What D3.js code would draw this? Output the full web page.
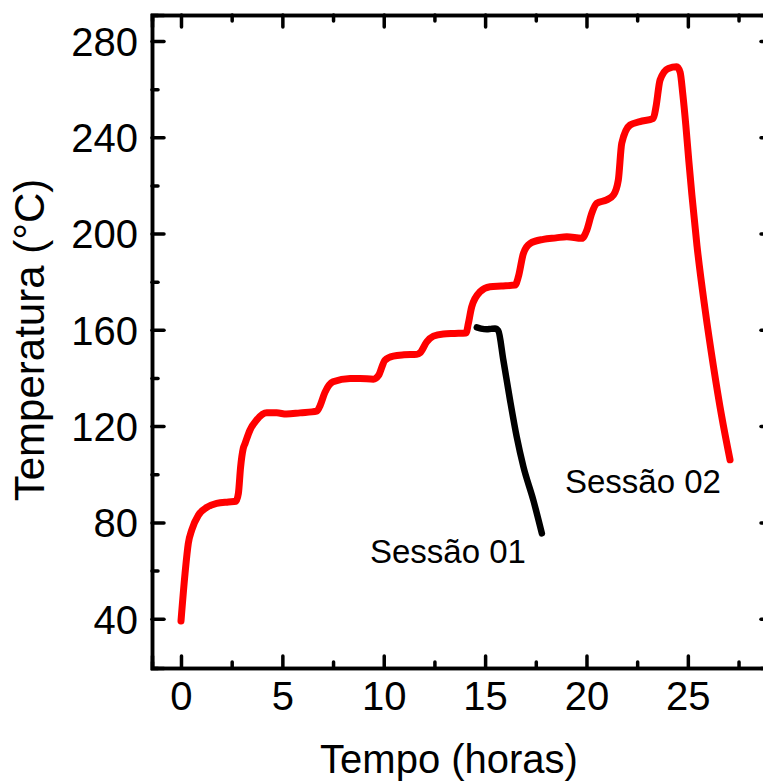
<!DOCTYPE html>
<html>
<head>
<meta charset="utf-8">
<script src="https://cdn.jsdelivr.net/npm/d3@7/dist/d3.min.js"></script>
<style>
  html, body { margin: 0; padding: 0; background: #fff; }
  svg text { font-family: "Liberation Sans", Arial, sans-serif; fill: #000; }
  .axis path, .axis line { stroke: #000; stroke-width: 3.5; stroke-linecap: round; }
</style>
</head>
<body>
<svg id="chart"></svg>
<script>
  // Sessão 02 (red) — hours / °C
  const redHours = [0, 0.2, 0.36, 0.53, 0.86, 1.27, 1.76, 2.34, 2.71, 2.83, 2.94, 3.07, 3.16, 3.4, 3.73, 4.23, 4.72, 5.2, 5.87, 6.7, 6.86, 7.1, 7.5, 8.34, 8.83, 9.49, 9.74, 10.06, 10.47, 11.0, 11.63, 11.8, 12.12, 12.45, 12.94, 13.5, 14.06, 14.17, 14.34, 14.75, 15.24, 15.8, 16.48, 16.64, 16.89, 17.22, 17.87, 18.5, 19.03, 19.77, 20.02, 20.26, 20.5, 21.0, 21.33, 21.57, 21.74, 22.15, 22.64, 23.3, 23.43, 23.63, 24.04, 24.45, 24.62, 24.75, 24.9, 25.05, 25.2, 25.45, 25.85, 26.26, 26.67, 27.08];
  const redTemps = [39, 58.8, 71.2, 76.8, 83, 86.2, 87.9, 88.5, 88.8, 92, 103, 110.7, 112.8, 118.3, 122.5, 125.5, 125.5, 125, 125.5, 126.2, 128.5, 134, 138.4, 139.8, 139.8, 139.5, 141, 147.4, 149.1, 149.6, 149.8, 150.5, 155, 157.4, 158.3, 158.5, 158.7, 162.5, 169.6, 175.8, 177.9, 178.2, 178.6, 182, 191.8, 195.9, 197.6, 198.2, 198.7, 198, 201.5, 208.4, 212.5, 214, 216, 222.2, 237.5, 245.1, 246.5, 247.9, 252.7, 263.8, 268.6, 269.3, 267, 258, 245, 230, 216, 195, 168.5, 145, 124, 106];

  // Sessão 01 (black)
  const blackHours = [14.59, 14.8, 15.08, 15.3, 15.49, 15.65, 15.9, 16.23, 16.56, 16.89, 17.38, 17.8];
  const blackTemps = [161, 160.5, 160.2, 160.4, 160.5, 159.6, 147.4, 130.8, 115.5, 103.1, 89.2, 75.4];

  const xMajor = [0, 5, 10, 15, 20, 25];
  const xMinor = [2.5, 7.5, 12.5, 17.5, 22.5, 27.5];
  const yMajor = [40, 80, 120, 160, 200, 240, 280];
  const yMinor = [60, 100, 140, 180, 220, 260];

  const width = 763;
  const height = 783;
  const plotLeft = 152, plotRight = 773, plotTop = 15, plotBottom = 668;

  const xScale = d3.scaleLinear().domain([-1.43, 29.2]).range([plotLeft, plotRight]);
  const yScale = d3.scaleLinear().domain([19.5, 290.8]).range([plotBottom, plotTop]);

  const chart = d3.select("#chart").attr("width", width).attr("height", height);

  // axes: major + minor ticks, all pointing inward
  const addAxis = (gen, values, size, transform, labels) => {
    return chart.append("g").attr("class", "axis").attr("transform", transform)
      .call(gen.tickValues(values).tickSize(size).tickPadding(labels ? 14 : 0)
        .tickFormat(labels ? d3.format("d") : ""));
  };

  addAxis(d3.axisBottom(xScale), xMinor, -6, `translate(0,${plotBottom})`, false);
  addAxis(d3.axisBottom(xScale), xMajor, -12, `translate(0,${plotBottom})`, true);
  addAxis(d3.axisTop(xScale), xMinor, -6, `translate(0,${plotTop})`, false);
  addAxis(d3.axisTop(xScale), xMajor, -12, `translate(0,${plotTop})`, false);
  addAxis(d3.axisLeft(yScale), yMinor, -6, `translate(${plotLeft},0)`, false);
  const yAxis = addAxis(d3.axisLeft(yScale), yMajor, -12, `translate(${plotLeft},0)`, true);
  addAxis(d3.axisRight(yScale), yMinor, -6, `translate(${plotRight},0)`, false);
  addAxis(d3.axisRight(yScale), yMajor, -12, `translate(${plotRight},0)`, false);

  chart.selectAll(".axis .tick text").attr("font-size", 40).attr("font-family", "Liberation Sans, Arial, sans-serif");
  yAxis.selectAll(".tick text").attr("dy", "0.36em");

  const line = d3.line().x((d) => xScale(d[0])).y((d) => yScale(d[1])).curve(d3.curveMonotoneX);

  chart.append("path")
    .datum(redHours.map((h, i) => [h, redTemps[i]]))
    .attr("d", line)
    .attr("fill", "none")
    .attr("stroke", "#ff0000")
    .attr("stroke-width", 7)
    .attr("stroke-linecap", "round")
    .attr("stroke-linejoin", "round");

  chart.append("path")
    .datum(blackHours.map((h, i) => [h, blackTemps[i]]))
    .attr("d", line)
    .attr("fill", "none")
    .attr("stroke", "#000")
    .attr("stroke-width", 6.5)
    .attr("stroke-linecap", "round")
    .attr("stroke-linejoin", "round");

  // annotations
  chart.append("text").attr("x", 565).attr("y", 493).attr("font-size", 33).text("Sessão 02");
  chart.append("text").attr("x", 370).attr("y", 563).attr("font-size", 33).text("Sessão 01");

  // axis titles
  chart.append("text")
    .attr("x", 449).attr("y", 773)
    .attr("text-anchor", "middle")
    .attr("font-size", 40)
    .text("Tempo (horas)");

  chart.append("text")
    .attr("transform", `translate(44, 340) rotate(-90)`)
    .attr("text-anchor", "middle")
    .attr("font-size", 42)
    .text("Temperatura (°C)");
</script>
</body>
</html>
